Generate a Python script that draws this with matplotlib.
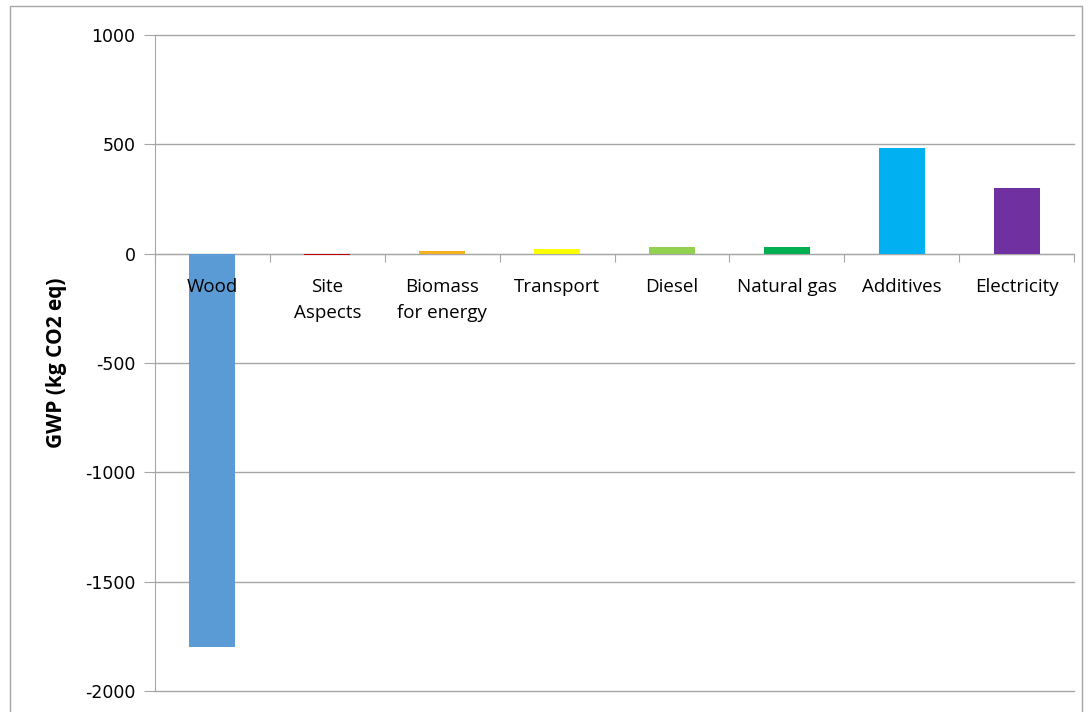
import matplotlib.pyplot as plt
from matplotlib.patches import Rectangle
from matplotlib.transforms import offset_copy
import numpy as np

plt.rcParams['font.family'] = ['Open Sans', 'DejaVu Sans']

categories = ['Wood', 'Site\nAspects', 'Biomass\nfor energy', 'Transport', 'Diesel',
              'Natural gas', 'Additives', 'Electricity']
gwp = [-1800, -8, 14, 20, 29, 29, 484, 301]
colors = ['#5B9BD5', '#C00000', '#F5B21E', '#FFFF00', '#92D050', '#00B050', '#00B0F0', '#7030A0']
yticks = [-2000, -1500, -1000, -500, 0, 500, 1000]

fig = plt.figure(figsize=(10.88, 7.12), dpi=100)
ax = fig.add_axes([155/1088, 1 - 691/712, (1074 - 155)/1088, (691 - 35)/712])

x = np.arange(len(categories))
ax.bar(x, gwp, width=0.4, color=colors, zorder=3)

ax.set_xlim(-0.5, len(categories) - 0.5)
ax.set_ylim(-2000, 1000)
ax.set_yticks(yticks)
ax.set_yticklabels([str(v) for v in yticks], fontsize=12.5, family='DejaVu Sans')
ax.grid(axis='y', color='#A6A6A6', linewidth=1, zorder=0)
for gl in ax.get_ygridlines():
    gl.set_clip_on(False)

# category boundaries as ticks
ax.set_xticks(np.arange(len(categories) + 1) - 0.5)
ax.set_xticklabels([])
ax.tick_params(axis='x', length=6, color='#A6A6A6', direction='out')
ax.tick_params(axis='y', length=8, color='#A6A6A6', pad=6)

# category names under the zero line, drawn over the bars
trans = offset_copy(ax.transData, fig=fig, y=-24, units='dots')
for xi, name in zip(x, categories):
    ax.text(xi, 0, name, transform=trans, ha='center', va='top',
            fontsize=13.5, linespacing=1.6, zorder=5)

ax.spines['bottom'].set_position(('data', 0))
ax.spines['bottom'].set_color('#A6A6A6')
ax.spines['left'].set_color('#A6A6A6')
ax.spines['top'].set_visible(False)
ax.spines['right'].set_visible(False)

ax.set_ylabel('GWP (kg CO2 eq)', fontsize=15, fontweight='bold', labelpad=13)

fig.patches.append(Rectangle((10/1088, -0.01), 1072/1088, 1 - 6/712 + 0.01,
                             transform=fig.transFigure, fill=False,
                             edgecolor='#A6A6A6', linewidth=1))

fig.savefig('out.png', dpi=100)
